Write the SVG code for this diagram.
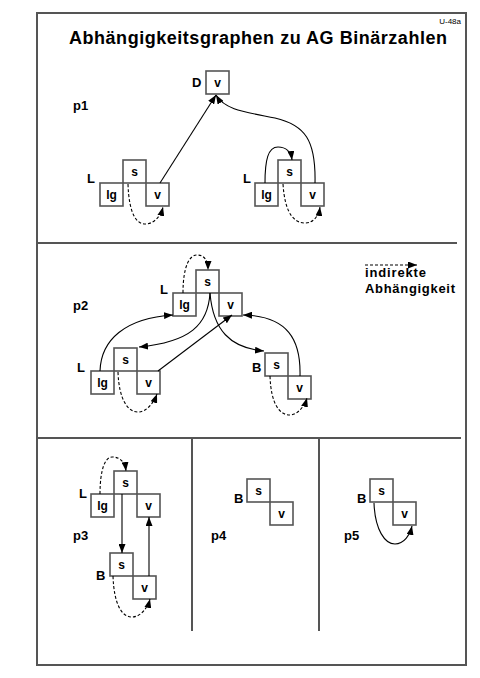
<svg xmlns="http://www.w3.org/2000/svg" width="480" height="678" viewBox="0 0 480 678">
<style>
.frame{fill:none;stroke:#555;stroke-width:2}
.sep{stroke:#555;stroke-width:2}
.box{fill:#fff;stroke:#555;stroke-width:1.6}
.bt{font-family:'Liberation Sans',Arial,sans-serif;font-weight:bold;font-size:12px;text-anchor:middle;fill:#000}
.lab{font-family:'Liberation Sans',Arial,sans-serif;font-weight:bold;font-size:13px;fill:#000}
.c{fill:none;stroke:#000;stroke-width:1.1;marker-end:url(#ah)}
.d{stroke-dasharray:3,2}
</style>
<defs>
<marker id="ah" markerUnits="userSpaceOnUse" markerWidth="9" markerHeight="7" refX="9" refY="3.5" orient="auto">
<path d="M0,0 L9,3.5 L0,7 z" fill="#000"/>
</marker>
</defs>
<rect class="frame" x="37" y="13" width="429" height="652"/>
<text x="461" y="24" font-family="'Liberation Sans',Arial,sans-serif" font-size="8" text-anchor="end">U-48a</text>
<text x="69" y="44" font-family="'Liberation Sans',Arial,sans-serif" font-weight="bold" font-size="18" textLength="378" lengthAdjust="spacing">Abhängigkeitsgraphen zu AG Binärzahlen</text>
<g id="separators">
<line class="sep" x1="37" y1="243" x2="457" y2="243"/>
<line class="sep" x1="37" y1="438" x2="461" y2="438"/>
<line class="sep" x1="192" y1="438" x2="192" y2="631"/>
<line class="sep" x1="319" y1="438" x2="319" y2="631"/>
</g>
<g id="labels">
<text class="lab" x="73" y="110">p1</text>
<text class="lab" x="73" y="310">p2</text>
<text class="lab" x="73" y="540">p3</text>
<text class="lab" x="211" y="540">p4</text>
<text class="lab" x="344" y="540">p5</text>
</g>
<g id="p1-D"><rect class="box" x="206" y="71" width="23" height="23"/><text class="bt" x="217.5" y="87">v</text><text class="lab" x="192" y="87">D</text></g>
<g id="p1-L1"><text class="lab" x="87" y="183">L</text>
<rect class="box" x="123" y="160" width="23" height="23"/><text class="bt" x="134.5" y="176">s</text>
<rect class="box" x="100" y="183" width="23" height="23"/><text class="bt" x="111.5" y="199">lg</text>
<rect class="box" x="146" y="183" width="23" height="23"/><text class="bt" x="157.5" y="199">v</text></g>
<g id="p1-L2"><text class="lab" x="243" y="183">L</text>
<rect class="box" x="278" y="160" width="23" height="23"/><text class="bt" x="289.5" y="176">s</text>
<rect class="box" x="255" y="183" width="23" height="23"/><text class="bt" x="266.5" y="199">lg</text>
<rect class="box" x="301" y="183" width="23" height="23"/><text class="bt" x="312.5" y="199">v</text></g>
<g id="p2-L1"><text class="lab" x="160" y="294">L</text>
<rect class="box" x="196" y="270" width="23" height="23"/><text class="bt" x="207.5" y="286">s</text>
<rect class="box" x="173" y="293" width="23" height="23"/><text class="bt" x="184.5" y="309">lg</text>
<rect class="box" x="219" y="293" width="23" height="23"/><text class="bt" x="230.5" y="309">v</text></g>
<g id="p2-L2"><text class="lab" x="77" y="372">L</text>
<rect class="box" x="114" y="348" width="23" height="23"/><text class="bt" x="125.5" y="364">s</text>
<rect class="box" x="91" y="371" width="23" height="23"/><text class="bt" x="102.5" y="387">lg</text>
<rect class="box" x="137" y="371" width="23" height="23"/><text class="bt" x="148.5" y="387">v</text></g>
<g id="p2-B"><text class="lab" x="252" y="372">B</text>
<rect class="box" x="265" y="353" width="23" height="23"/><text class="bt" x="276.5" y="369">s</text>
<rect class="box" x="288" y="376" width="23" height="23"/><text class="bt" x="299.5" y="392">v</text></g>
<g id="legend"><line class="c d" x1="365" y1="265" x2="417" y2="265"/>
<text class="lab" x="365" y="277" textLength="61" lengthAdjust="spacing">indirekte</text>
<text class="lab" x="365" y="293" textLength="90" lengthAdjust="spacing">Abhängigkeit</text></g>
<g id="p3-L"><text class="lab" x="79" y="498">L</text>
<rect class="box" x="114" y="471" width="23" height="23"/><text class="bt" x="125.5" y="487">s</text>
<rect class="box" x="91" y="494" width="23" height="23"/><text class="bt" x="102.5" y="510">lg</text>
<rect class="box" x="137" y="494" width="23" height="23"/><text class="bt" x="148.5" y="510">v</text></g>
<g id="p3-B"><text class="lab" x="96" y="580">B</text>
<rect class="box" x="110" y="553" width="23" height="23"/><text class="bt" x="121.5" y="569">s</text>
<rect class="box" x="133" y="576" width="23" height="23"/><text class="bt" x="144.5" y="592">v</text></g>
<g id="p4-B"><text class="lab" x="234" y="503">B</text>
<rect class="box" x="247" y="479" width="23" height="23"/><text class="bt" x="258.5" y="495">s</text>
<rect class="box" x="270" y="502" width="23" height="23"/><text class="bt" x="281.5" y="518">v</text></g>
<g id="p5-B"><text class="lab" x="357" y="503">B</text>
<rect class="box" x="370" y="479" width="23" height="23"/><text class="bt" x="381.5" y="495">s</text>
<rect class="box" x="393" y="502" width="23" height="23"/><text class="bt" x="404.5" y="518">v</text></g>
<g id="connectors">
<path class="c" d="M160,183 L216,95"/>
<path class="c d" d="M128,184 C129,215 137,224 145,224 C155,224 161,215 163,207"/>
<path class="c" d="M315,183 C316,140 305,125 275,118 C245,112 225,110 216,95"/>
<path class="c" d="M265,183 C265,160 268,147 278,147 C286,147 291,152 292,160"/>
<path class="c d" d="M283,184 C285,215 295,223 305,223 C314,223 319,215 320,207"/>
<path class="c d" d="M183,293 C183,265 190,255 197,255 C204,255 208,260 208,270"/>
<path class="c" d="M210,293 C208,325 190,342 139,347"/>
<path class="c" d="M210,293 C213,330 230,348 264,351"/>
<path class="c" d="M100,371 C101,340 125,318 173,315"/>
<path class="c" d="M158,371 L232,315"/>
<path class="c" d="M300,376 C301,340 288,316 243,315"/>
<path class="c d" d="M270,376 C271,405 280,415 290,415 C298,415 305,405 307,398"/>
<path class="c d" d="M118,372 C119,400 128,412 138,412 C147,412 154,402 157,394"/>
<path class="c d" d="M100,494 C100,470 105,457 112,457 C120,457 125,462 126,471"/>
<path class="c" d="M122,494 L122,553"/>
<path class="c" d="M149,576 L149,517"/>
<path class="c d" d="M113,576 C114,605 122,617 132,617 C141,617 148,607 150,599"/>
<path class="c" d="M374,503 C375,530 385,544 395,544 C404,544 410,535 412,526"/>
</g>
</svg>
